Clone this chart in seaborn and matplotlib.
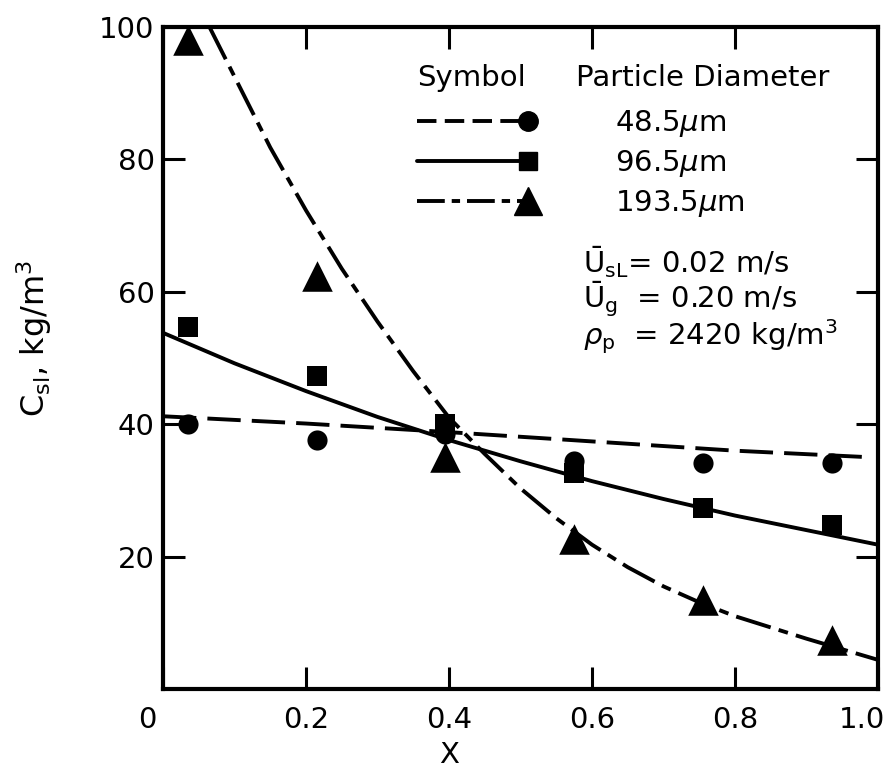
import matplotlib
matplotlib.use("Agg")
import matplotlib.pyplot as plt
import matplotlib.transforms as mtransforms
from matplotlib.lines import Line2D
from matplotlib.legend_handler import HandlerLine2D
import seaborn as sns
import pandas as pd

# ---- data ----
x_pts = [0.035, 0.215, 0.395, 0.575, 0.755, 0.935]
c_48 = [40.0, 37.6, 38.5, 34.5, 34.2, 34.1]
c_96 = [54.7, 47.3, 40.1, 32.7, 27.3, 24.8]
c_193 = [98.0, 62.4, 35.0, 22.7, 13.4, 7.4]

curve48_x = [0.0, 0.2, 0.4, 0.6, 0.8, 0.99]
curve48_y = [41.2, 40.1, 38.8, 37.4, 36.0, 35.0]

curve96_x = [0.0, 0.1, 0.2, 0.3, 0.4, 0.5, 0.6, 0.7, 0.8, 0.9, 1.0]
curve96_y = [53.8, 49.2, 45.0, 41.1, 37.6, 34.4, 31.4, 28.7, 26.2, 24.0, 21.8]

curve193_x = [0.065, 0.10, 0.15, 0.20, 0.25, 0.30, 0.35, 0.40, 0.45, 0.50,
              0.55, 0.60, 0.65, 0.70, 0.75, 0.80, 0.85, 0.90, 0.95, 1.00]
curve193_y = [100, 92.5, 81.8, 72.3, 63.5, 55.5, 48.0, 41.0, 35.5, 30.3,
              25.8, 21.8, 18.4, 15.5, 13.1, 11.0, 9.3, 7.6, 6.0, 4.4]

labels = ["48.5$\\mu$m", "96.5$\\mu$m", "193.5$\\mu$m"]
xticks = [0, 0.2, 0.4, 0.6, 0.8, 1.0]
xticklabels = ["0", "0.2", "0.4", "0.6", "0.8", "1.0"]
yticks = [20, 40, 60, 80, 100]

# ---- style ----
sns.set_style("ticks")
plt.rcParams["font.family"] = ["DejaVu Sans"]
plt.rcParams["mathtext.fontset"] = "dejavusans"
plt.rcParams["lines.scale_dashes"] = False
for k in ["text.color", "axes.labelcolor", "xtick.color", "ytick.color",
          "xtick.labelcolor", "ytick.labelcolor"]:
    plt.rcParams[k] = "black"

fig = plt.figure(figsize=(8.9, 7.71), dpi=100)
ax = fig.add_axes([163 / 890, 1 - 689 / 771, 715 / 890, 662 / 771])

LW = 2.8
dash48 = (0, (24, 8))
dash193 = (0, (26, 6, 7, 6))

df48 = pd.DataFrame({"x": curve48_x, "y": curve48_y})
df96 = pd.DataFrame({"x": curve96_x, "y": curve96_y})
df193 = pd.DataFrame({"x": curve193_x, "y": curve193_y})

sns.lineplot(data=df48, x="x", y="y", ax=ax, color="black", lw=LW, sort=False)
ax.lines[-1].set_linestyle(dash48)
sns.lineplot(data=df96, x="x", y="y", ax=ax, color="black", lw=LW, sort=False)
sns.lineplot(data=df193, x="x", y="y", ax=ax, color="black", lw=LW, sort=False)
ax.lines[-1].set_linestyle(dash193)

sns.scatterplot(x=x_pts, y=c_48, ax=ax, marker="o", s=14.5 ** 2, color="black",
                edgecolor="black", linewidth=0, zorder=3)
sns.scatterplot(x=x_pts, y=c_96, ax=ax, marker="s", s=15 ** 2, color="black",
                edgecolor="black", linewidth=0, zorder=3)
sns.scatterplot(x=x_pts, y=c_193, ax=ax, marker="^", s=22 ** 2, color="black",
                edgecolor="black", linewidth=0, zorder=3)

ax.set_xlim(0, 1.0)
ax.set_ylim(0, 100)
ax.set_xticks(xticks)
ax.set_xticklabels(xticklabels)
ax.set_yticks(yticks)
ax.tick_params(axis="both", which="major", direction="in", length=16, width=2.2,
               labelsize=21, top=True, right=True, colors="black")
ax.tick_params(axis="x", pad=12)
ax.tick_params(axis="y", pad=6)
for sp in ax.spines.values():
    sp.set_linewidth(3)
    sp.set_color("black")

# shift "0" and "1.0" labels like the reference
xl = ax.get_xticklabels()
xl[0].set_transform(xl[0].get_transform() + mtransforms.ScaledTranslation(-16 / 100, 0, fig.dpi_scale_trans))
xl[-1].set_transform(xl[-1].get_transform() + mtransforms.ScaledTranslation(-16 / 100, 0, fig.dpi_scale_trans))

ax.set_xlabel("X", fontsize=21)
ax.xaxis.set_label_coords(0.40, -0.078)
ax.set_ylabel("C$_{\\mathrm{sl}}$, kg/m$^3$", fontsize=23)
ax.yaxis.set_label_coords(-0.152, 0.53)


# legend with marker at right end of the line sample
class EndMarkerHandler(HandlerLine2D):
    def create_artists(self, legend, orig_handle, xdescent, ydescent, width, height, fontsize, trans):
        yd = height / 2 - ydescent
        line = Line2D([-xdescent, width - xdescent], [yd, yd])
        self.update_prop(line, orig_handle, legend)
        line.set_marker("None")
        line.set_transform(trans)
        mk = Line2D([width - xdescent - 4], [yd])
        self.update_prop(mk, orig_handle, legend)
        mk.set_linestyle("None")
        mk.set_transform(trans)
        return [line, mk]


h1 = Line2D([], [], color="black", lw=LW, linestyle=(0, (14, 6)), marker="o", markersize=14)
h2 = Line2D([], [], color="black", lw=LW, linestyle="-", marker="s", markersize=13)
h3 = Line2D([], [], color="black", lw=LW, linestyle=(0, (20, 5, 6, 5)), marker="^", markersize=20)
leg = ax.legend([h1, h2, h3], labels, loc="upper left", bbox_to_anchor=(0.355, 0.878),
                frameon=False, fontsize=21, handlelength=4.0, handletextpad=2.8,
                labelspacing=0.32, borderpad=0, borderaxespad=0,
                handler_map={Line2D: EndMarkerHandler()})

ax.text(0.355, 0.923, "Symbol", transform=ax.transAxes, fontsize=21, ha="left", va="center")
ax.text(0.578, 0.923, "Particle Diameter", transform=ax.transAxes, fontsize=21, ha="left", va="center")

ax.text(0.587, 0.645, "$\\bar{\\mathrm{U}}_{\\mathrm{sL}}$= 0.02 m/s", transform=ax.transAxes,
        fontsize=21, ha="left", va="center")
ax.text(0.587, 0.588, "$\\bar{\\mathrm{U}}_{\\mathrm{g}}$  = 0.20 m/s", transform=ax.transAxes,
        fontsize=21, ha="left", va="center")
ax.text(0.587, 0.532, "$\\rho_{\\mathrm{p}}$  = 2420 kg/m$^3$", transform=ax.transAxes,
        fontsize=21, ha="left", va="center")

fig.savefig("out.png", dpi=100, facecolor="white")
